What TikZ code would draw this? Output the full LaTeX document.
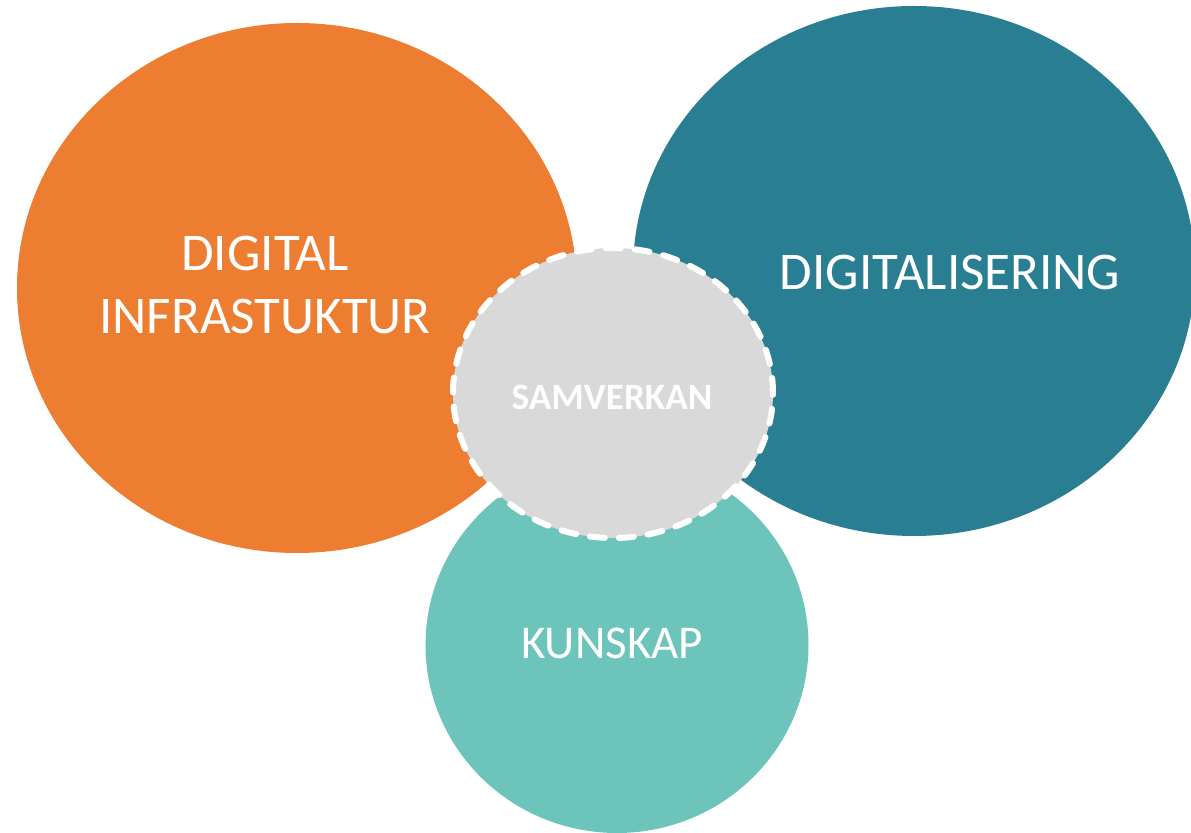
\documentclass[tikz,border=0pt]{standalone}
\usepackage{fontspec}
\setmainfont{Carlito}
\usepackage{tikz}
\definecolor{infraOrange}{HTML}{ED7D31}
\definecolor{digiTeal}{HTML}{297F91}
\definecolor{kunskapTeal}{HTML}{6CC4BB}
\definecolor{samGray}{HTML}{D9D9D9}
\tikzset{
  bigtext/.style={text=white, font=\fontsize{26.5}{31.5}\selectfont, align=center},
  samtext/.style={text=white!96!samGray, font=\fontsize{18.6}{22}\selectfont\bfseries},
  samring/.style={fill=samGray, draw=white, line width=3pt, dash pattern=on 7.5pt off 7pt, line cap=round},
}

\begin{document}
\begin{tikzpicture}[x=0.5pt, y=-0.5pt]
  \useasboundingbox (0,0) rectangle (1191,833);
  \clip (0,0) rectangle (1191,833);
  \coordinate (infra) at (297,288);
  \coordinate (digi) at (914,271);
  \coordinate (kunskap) at (617,645);
  \coordinate (sam) at (613,393);
  \fill[infraOrange] (infra) ellipse [x radius=140pt, y radius=132.5pt];
  \fill[digiTeal] (digi) ellipse [x radius=140.5pt, y radius=132.5pt];
  \fill[kunskapTeal] (kunskap) ellipse [x radius=95.75pt, y radius=94pt];
  \draw[samring] (sam) ellipse [x radius=80pt, y radius=72.5pt];
  \node[bigtext] (infraText) at (265,285) {DIGITAL\\INFRASTUKTUR};
  \node[bigtext] (digiText) at (950,272) {DIGITALISERING};
  \node[bigtext, font=\fontsize{23.5}{28}\selectfont] (kunskapText) at (612,643) {KUNSKAP};
  \node[samtext] (samText) at (612,397) {SAMVERKAN};
\end{tikzpicture}
\end{document}
